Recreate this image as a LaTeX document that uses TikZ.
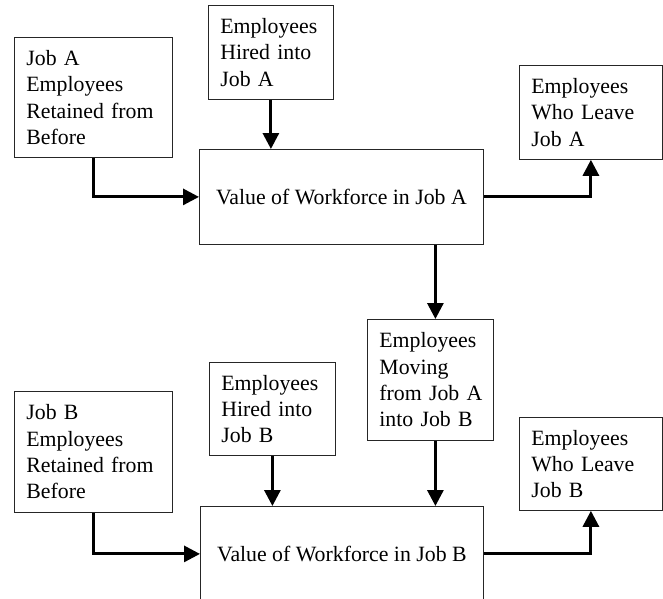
\documentclass[tikz,border=0pt]{standalone}
\usepackage{fontspec}
\setmainfont{Liberation Serif}
\usetikzlibrary{arrows.meta,calc}
\begin{document}
\begin{tikzpicture}[x=1pt,y=-1pt,
  box/.style={draw=black!85, line width=0.8pt, inner xsep=12pt, inner ysep=0pt,
    align=left, anchor=north west,
    font=\fontsize{21.8}{26.3}\selectfont},
  valbox/.style={draw=black!85, line width=0.8pt, inner sep=0pt,
    align=center, anchor=north west,
    font=\fontsize{21.8}{26.3}\selectfont},
  arr/.style={line width=3pt, -{Triangle[width=16pt,length=16pt]}}]
\clip (0,0) rectangle (663,598);
\node[box, text width=134pt, minimum height=120pt] (r1A) at (14,37) {\mbox{Job A}\\\mbox{Employees}\\\mbox{Retained from}\\\mbox{Before}};
\node[box, text width=101pt, minimum height=94pt] (hiredA) at (208,5) {\mbox{Employees}\\\mbox{Hired into}\\\mbox{Job A}};
\node[valbox, minimum width=284pt, minimum height=95pt] (valA) at (199,149) {Value of Workforce in Job A};
\node[box, text width=119pt, minimum height=94pt] (leaveA) at (519,65) {\mbox{Employees}\\\mbox{Who Leave}\\\mbox{Job A}};
\node[box, text width=102pt, minimum height=121pt] (move) at (367,319) {\mbox{Employees}\\\mbox{Moving}\\\mbox{from Job A}\\\mbox{into Job B}};
\node[box, text width=102pt, minimum height=93pt] (hiredB) at (209,362) {\mbox{Employees}\\\mbox{Hired into}\\\mbox{Job B}};
\node[box, text width=134pt, minimum height=121pt] (r1B) at (14,391) {\mbox{Job B}\\\mbox{Employees}\\\mbox{Retained from}\\\mbox{Before}};
\node[valbox, minimum width=283pt, minimum height=95pt] (valB) at (200,506) {Value of Workforce in Job B};
\node[box, text width=119pt, minimum height=93pt] (leaveB) at (519,417) {\mbox{Employees}\\\mbox{Who Leave}\\\mbox{Job B}};
\coordinate (mx) at ($(move.north)+(5,0)$);
\draw[arr] (r1A.south) |- (valA.west);
\draw[arr] (hiredA.south) -- (hiredA.south |- valA.north);
\draw[arr] (valA.east) -| (leaveA.south);
\draw[arr] (mx |- valA.south) -- (mx |- move.north);
\draw[arr] (mx |- move.south) -- (mx |- valB.north);
\draw[arr] (hiredB.south) -- (hiredB.south |- valB.north);
\draw[arr] (r1B.south) |- (valB.west);
\draw[arr] (valB.east) -| (leaveB.south);
\end{tikzpicture}
\end{document}
